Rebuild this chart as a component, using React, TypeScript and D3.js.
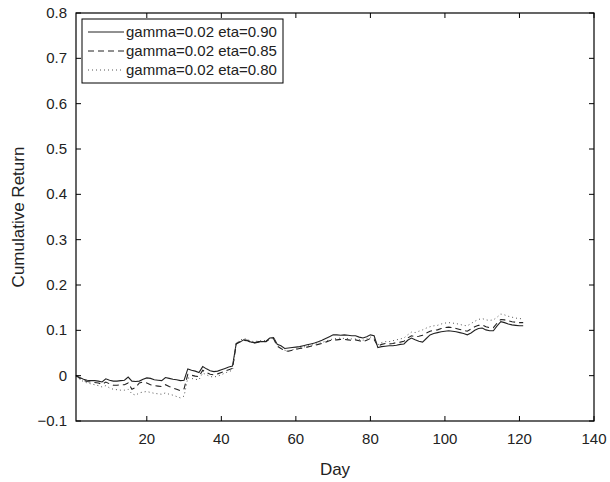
import React, { useEffect, useRef } from 'react';
import * as d3 from 'd3';

// cumulative return per day (day 1..121)
const eta090 = [
  0.000, -0.004, -0.008, -0.010, -0.011, -0.011, -0.012, -0.014, -0.007, -0.010,
  -0.012, -0.012, -0.011, -0.010, -0.003, -0.012, -0.013, -0.012, -0.008, -0.005,
  -0.006, -0.009, -0.010, -0.011, -0.004, -0.006, -0.008, -0.009, -0.011, -0.010,
  0.015, 0.012, 0.010, 0.007, 0.020, 0.015, 0.011, 0.009, 0.010, 0.013,
  0.016, 0.019, 0.021, 0.071, 0.074, 0.079, 0.078, 0.074, 0.073, 0.075,
  0.075, 0.076, 0.083, 0.084, 0.069, 0.066, 0.060, 0.061, 0.062, 0.063,
  0.064, 0.066, 0.068, 0.070, 0.072, 0.075, 0.078, 0.082, 0.086, 0.090,
  0.090, 0.089, 0.090, 0.089, 0.088, 0.088, 0.085, 0.083, 0.086, 0.090,
  0.088, 0.062, 0.064, 0.065, 0.066, 0.066, 0.067, 0.069, 0.070, 0.078,
  0.083, 0.079, 0.076, 0.074, 0.082, 0.090, 0.093, 0.095, 0.097, 0.098,
  0.099, 0.098, 0.097, 0.095, 0.093, 0.090, 0.094, 0.100, 0.104, 0.105,
  0.101, 0.099, 0.099, 0.110, 0.119, 0.117, 0.114, 0.112, 0.111, 0.110,
  0.110,
];

const eta085 = [
  0.000, -0.006, -0.010, -0.013, -0.014, -0.015, -0.016, -0.019, -0.014, -0.018,
  -0.021, -0.021, -0.020, -0.020, -0.016, -0.030, -0.026, -0.016, -0.014, -0.016,
  -0.020, -0.022, -0.023, -0.024, -0.020, -0.024, -0.027, -0.030, -0.033, -0.029,
  0.003, 0.001, -0.001, -0.002, 0.012, 0.007, 0.003, 0.002, 0.004, 0.007,
  0.010, 0.013, 0.016, 0.070, 0.075, 0.078, 0.077, 0.073, 0.072, 0.074,
  0.075, 0.075, 0.081, 0.082, 0.065, 0.060, 0.055, 0.054, 0.056, 0.058,
  0.060, 0.061, 0.063, 0.065, 0.067, 0.069, 0.071, 0.074, 0.077, 0.079,
  0.079, 0.080, 0.080, 0.079, 0.078, 0.079, 0.077, 0.075, 0.078, 0.082,
  0.080, 0.065, 0.069, 0.071, 0.070, 0.071, 0.073, 0.074, 0.076, 0.083,
  0.088, 0.086, 0.087, 0.089, 0.094, 0.098, 0.100, 0.101, 0.104, 0.106,
  0.107, 0.106, 0.104, 0.102, 0.100, 0.098, 0.103, 0.108, 0.111, 0.112,
  0.108, 0.106, 0.106, 0.116, 0.124, 0.123, 0.121, 0.119, 0.118, 0.117,
  0.117,
];

const eta080 = [
  0.000, -0.008, -0.013, -0.016, -0.018, -0.020, -0.022, -0.025, -0.022, -0.027,
  -0.030, -0.031, -0.032, -0.032, -0.030, -0.040, -0.043, -0.038, -0.036, -0.035,
  -0.037, -0.039, -0.040, -0.041, -0.038, -0.041, -0.043, -0.046, -0.049, -0.045,
  -0.005, -0.006, -0.008, -0.009, 0.006, 0.002, -0.002, -0.003, -0.001, 0.002,
  0.006, 0.009, 0.012, 0.072, 0.078, 0.082, 0.080, 0.076, 0.075, 0.077,
  0.077, 0.078, 0.083, 0.085, 0.067, 0.061, 0.056, 0.055, 0.057, 0.059,
  0.061, 0.063, 0.065, 0.067, 0.069, 0.071, 0.073, 0.076, 0.079, 0.081,
  0.082, 0.083, 0.082, 0.082, 0.081, 0.081, 0.080, 0.078, 0.081, 0.085,
  0.083, 0.068, 0.073, 0.075, 0.075, 0.077, 0.079, 0.081, 0.083, 0.090,
  0.096, 0.095, 0.098, 0.101, 0.105, 0.108, 0.110, 0.111, 0.114, 0.116,
  0.117, 0.116, 0.115, 0.113, 0.111, 0.110, 0.115, 0.120, 0.124, 0.126,
  0.123, 0.122, 0.123, 0.129, 0.136, 0.134, 0.131, 0.129, 0.127, 0.126,
  0.125,
];

const seriesNames = ['gamma=0.02 eta=0.90', 'gamma=0.02 eta=0.85', 'gamma=0.02 eta=0.80'];
const xTicks = [20, 40, 60, 80, 100, 120, 140];
const yTicks = [-0.1, 0, 0.1, 0.2, 0.3, 0.4, 0.5, 0.6, 0.7, 0.8];

const dashes = ['none', '6,4', '1,3'];

const App = () => {
  const svgRef = useRef<SVGSVGElement>(null);

  useEffect(() => {
    const svg = d3.select(svgRef.current);
    svg.selectAll('*').remove();

    const width = 610;
    const height = 482;
    const margin = { top: 13, right: 16, bottom: 61, left: 76 };
    const font = 'Liberation Sans, Arial, Helvetica, sans-serif';

    const x = d3.scaleLinear().domain([1, 140]).range([margin.left, width - margin.right]);
    const y = d3.scaleLinear().domain([-0.1, 0.8]).range([height - margin.bottom, margin.top]);

    const fmt = (v: number) => (Math.abs(v) < 1e-9 ? '0' : d3.format('.1f')(v).replace('-', '\u2212'));

    const g = svg.append('g');

    // lines first, frame on top
    const series = [eta090, eta085, eta080];
    const line = d3.line<number>()
      .x((_, i) => x(i + 1))
      .y(d => y(d));

    series.forEach((s, k) => {
      g.append('path')
        .datum(s)
        .attr('d', line)
        .attr('fill', 'none')
        .attr('stroke', k === 2 ? '#555' : '#222')
        .attr('stroke-width', k === 2 ? 1 : 1.1)
        .attr('stroke-dasharray', dashes[k]);
    });

    // box
    g.append('rect')
      .attr('x', x(1))
      .attr('y', y(0.8))
      .attr('width', x(140) - x(1))
      .attr('height', y(-0.1) - y(0.8))
      .attr('fill', 'none')
      .attr('stroke', '#000')
      .attr('stroke-width', 1.2);

    const tk = 5;
    xTicks.forEach(t => {
      g.append('line').attr('x1', x(t)).attr('x2', x(t)).attr('y1', y(-0.1)).attr('y2', y(-0.1) - tk).attr('stroke', '#000');
      g.append('line').attr('x1', x(t)).attr('x2', x(t)).attr('y1', y(0.8)).attr('y2', y(0.8) + tk).attr('stroke', '#000');
      g.append('text')
        .attr('x', x(t))
        .attr('y', y(-0.1) + 23)
        .attr('text-anchor', 'middle')
        .attr('font-family', font)
        .attr('font-size', 15)
        .attr('fill', '#222')
        .text(t);
    });

    yTicks.forEach(t => {
      g.append('line').attr('x1', x(1)).attr('x2', x(1) + tk).attr('y1', y(t)).attr('y2', y(t)).attr('stroke', '#000');
      g.append('line').attr('x1', x(140)).attr('x2', x(140) - tk).attr('y1', y(t)).attr('y2', y(t)).attr('stroke', '#000');
      g.append('text')
        .attr('x', x(1) - 9)
        .attr('y', y(t) + 5)
        .attr('text-anchor', 'end')
        .attr('font-family', font)
        .attr('font-size', 15)
        .attr('fill', '#222')
        .text(fmt(t));
    });

    g.append('text')
      .attr('x', (x(1) + x(140)) / 2)
      .attr('y', 475)
      .attr('text-anchor', 'middle')
      .attr('font-family', font)
      .attr('font-size', 17)
      .attr('fill', '#222')
      .text('Day');

    g.append('text')
      .attr('transform', `translate(24,${(y(0.8) + y(-0.1)) / 2}) rotate(-90)`)
      .attr('text-anchor', 'middle')
      .attr('font-family', font)
      .attr('font-size', 17)
      .attr('fill', '#222')
      .text('Cumulative Return');

    // legend
    const lg = g.append('g');
    lg.append('rect')
      .attr('x', 82)
      .attr('y', 19)
      .attr('width', 201)
      .attr('height', 64)
      .attr('fill', '#fff')
      .attr('stroke', '#000')
      .attr('stroke-width', 1);

    seriesNames.forEach((name, k) => {
      const cy = 32 + k * 19;
      lg.append('line')
        .attr('x1', 88).attr('x2', 124)
        .attr('y1', cy).attr('y2', cy)
        .attr('stroke', k === 2 ? '#555' : '#222')
        .attr('stroke-dasharray', dashes[k]);
      lg.append('text')
        .attr('x', 126)
        .attr('y', cy + 5)
        .attr('font-family', font)
        .attr('font-size', 15)
        .attr('fill', '#222')
        .text(name);
    });
  }, []);

  return (
    <svg
      ref={svgRef}
      width={610}
      height={482}
      style={{ position: 'absolute', left: 0, top: 0, background: '#fff' }}
    ></svg>
  );
};

export default App;
